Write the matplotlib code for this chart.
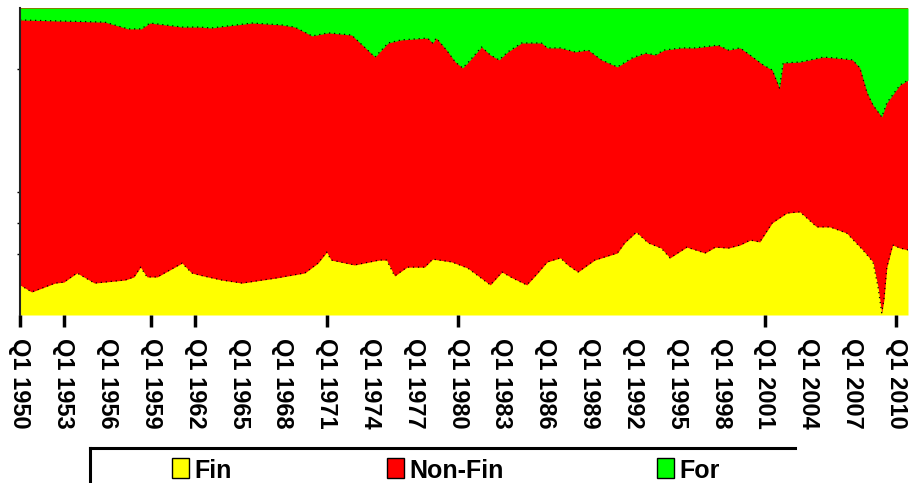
import matplotlib
matplotlib.use("Agg")
import matplotlib.pyplot as plt
from matplotlib.patches import Rectangle
from matplotlib.lines import Line2D

# ---- data (shares in %, dates as fractional years) ----
fin_dates = [1950.0, 1950.8, 1952.4, 1953.0, 1953.9, 1955.1, 1957.2, 1957.8, 1958.25, 1958.7,
             1959.4, 1961.1, 1961.75, 1962.3, 1963.8, 1965.2, 1967.6, 1969.5, 1970.4, 1971.0,
             1971.3, 1972.9, 1974.6, 1975.1, 1975.65, 1976.5, 1977.7, 1978.25, 1979.55, 1980.65,
             1981.3, 1982.2, 1983.0, 1983.7, 1984.7, 1985.45, 1986.1, 1987.0, 1987.5, 1988.2,
             1989.35, 1990.9, 1991.4, 1992.2, 1993.0, 1993.9, 1994.5, 1995.65, 1996.9, 1997.6,
             1998.5, 1999.3, 2000.0, 2000.65, 2001.5, 2002.5, 2003.4, 2004.55, 2005.45, 2006.6,
             2007.7, 2008.4, 2008.75, 2009.0, 2009.15, 2009.35, 2009.75, 2010.25, 2010.8]
fin_share = [9.8, 7.5, 10.4, 10.7, 13.7, 10.4, 11.4, 12.4, 15.6, 12.4,
             12.4, 16.9, 13.7, 13.0, 11.4, 10.4, 12.1, 13.7, 16.9, 20.5,
             17.9, 16.3, 17.9, 17.9, 12.7, 15.6, 15.6, 18.2, 17.3, 15.3,
             13.0, 9.8, 14.0, 12.1, 9.8, 13.7, 17.3, 18.6, 16.3, 14.0,
             17.9, 20.2, 23.5, 27.0, 23.5, 21.8, 18.6, 22.1, 20.2, 22.1,
             21.8, 22.8, 24.4, 23.8, 30.0, 33.2, 33.6, 28.7, 28.7, 26.7,
             21.2, 17.3, 9.1, 0.7, 4.9, 15.6, 22.8, 21.8, 21.2]

for_dates = [1950.0, 1955.8, 1957.4, 1958.3, 1958.9, 1961.1, 1962.3, 1963.1, 1965.9, 1967.9,
             1968.8, 1970.0, 1971.1, 1972.7, 1973.8, 1974.3, 1975.2, 1976.1, 1977.9, 1978.25,
             1978.5, 1979.2, 1979.8, 1980.3, 1980.65, 1981.6, 1982.2, 1982.8, 1983.4, 1984.35,
             1985.7, 1986.1, 1987.0, 1988.0, 1988.9, 1989.8, 1990.9, 1991.9, 1992.8, 1993.5,
             1994.1, 1995.3, 1996.2, 1997.8, 1998.5, 1999.3, 1999.8, 2000.9, 2001.5, 2002.0,
             2002.25, 2003.4, 2005.0, 2005.9, 2007.0, 2007.5, 2008.0, 2008.4, 2009.0, 2009.35,
             2009.75, 2010.25, 2010.8]
for_share = [3.9, 4.6, 6.8, 6.8, 4.9, 6.2, 6.2, 6.5, 4.9, 5.5,
             6.2, 9.1, 8.1, 8.8, 13.7, 16.0, 11.4, 10.4, 9.8, 11.4,
             9.8, 13.7, 17.6, 19.5, 17.9, 12.7, 15.3, 16.9, 14.3, 11.4,
             11.4, 13.0, 13.0, 14.3, 13.7, 16.9, 19.2, 16.3, 14.7, 15.3,
             13.7, 13.0, 13.0, 12.1, 13.7, 13.0, 14.7, 18.6, 20.2, 26.1,
             17.9, 17.6, 16.0, 16.3, 16.9, 19.5, 27.7, 31.6, 35.5, 30.9,
             28.3, 25.1, 23.5]

tick_years = list(range(1950, 2011, 3))
tick_labels = [f"Q1 {y}" for y in tick_years]
marked_years = [1950, 1953, 1959, 1962, 1971, 1980, 2001, 2010]
ytick_vals = [20, 30, 40, 80]
series_names = ["Fin", "Non-Fin", "For"]
series_colors = ["#FFFF00", "#FF0000", "#00FF00"]

W, H = 909, 483
fig = plt.figure(figsize=(W / 100, H / 100), dpi=100)
ax = fig.add_axes([20 / W, 1 - 315 / H, 888 / W, 307 / H])

# Non-Fin is the residual between Fin and For
ax.fill_between(fin_dates, 0, 100, color=series_colors[1], lw=0)
ax.fill_between(fin_dates, 0, fin_share, color=series_colors[0], lw=0)
for_bottom = [100 - v for v in for_share]
ax.fill_between(for_dates, for_bottom, 100, color=series_colors[2], lw=0)
ax.plot(fin_dates, fin_share, color="black", lw=0.9, ls=(0, (1, 3)))
ax.plot(for_dates, for_bottom, color="black", lw=0.9, ls=(0, (1, 3)))

ax.set_xlim(1950, 2010.8)
ax.set_ylim(0, 100)

for s in ["top", "right", "bottom"]:
    ax.spines[s].set_visible(False)
ax.spines["left"].set_color("#222222")
ax.spines["left"].set_linewidth(1.5)

ax.set_yticks(ytick_vals)
ax.set_yticklabels([])
ax.tick_params(axis="y", direction="out", length=2.5, width=1, color="black")

ax.set_xticks(tick_years)
ax.set_xticklabels(tick_labels, rotation=270, ha="center", va="top",
                   fontfamily="Liberation Sans", fontweight="bold", fontsize=17)
ax.tick_params(axis="x", direction="out", length=8.5, width=2.5, color="black", pad=8)
for t, y in zip(ax.xaxis.get_major_ticks(), tick_years):
    if y not in marked_years:
        t.tick1line.set_visible(False)

# ---- legend (box cut at the bottom of the figure) ----
def fx(px):
    return px / W

def fy(py):
    return 1 - py / H

fig.add_artist(Line2D([fx(90), fx(795)], [fy(448), fy(448)], color="black", lw=2.2))
fig.add_artist(Line2D([fx(90), fx(90)], [fy(448), fy(490)], color="black", lw=2.2))
leg_x = [172, 387, 657]
for name, col, x0 in zip(series_names, series_colors, leg_x):
    fig.add_artist(Rectangle((fx(x0), fy(478)), 17 / W, 20 / H, facecolor=col,
                             edgecolor="black", lw=1, transform=fig.transFigure))
    fig.text(fx(x0 + 22), fy(478), name, fontfamily="Liberation Sans", fontweight="bold",
             fontsize=18, ha="left", va="baseline")

fig.savefig("out.png", dpi=100)
